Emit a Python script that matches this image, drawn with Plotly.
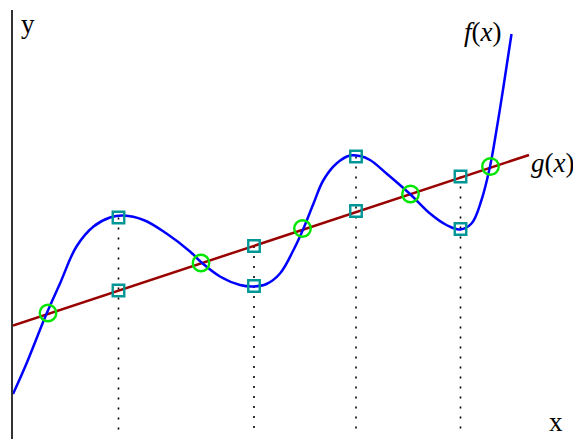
import plotly.graph_objects as go

# f(x) curve points
f_x = [0.00, 0.27, 0.66, 0.94, 1.27, 1.61, 1.94, 2.21, 2.61, 3.07, 3.54, 3.77, 4.14,
       4.54, 4.81, 5.07, 5.34, 5.61, 5.81, 6.01, 6.21, 6.47, 6.74, 6.94, 7.14, 7.47,
       7.94, 8.34, 8.67, 8.94, 9.17, 9.37, 9.54, 9.67, 9.81, 9.97]
f_y = [0.90, 1.51, 2.48, 3.11, 3.85, 4.25, 4.43, 4.47, 4.38, 4.11, 3.75, 3.53, 3.25,
       3.08, 3.05, 3.10, 3.31, 3.78, 4.21, 4.71, 5.18, 5.51, 5.67, 5.66, 5.58, 5.31,
       4.90, 4.51, 4.28, 4.19, 4.31, 4.78, 5.45, 6.18, 7.05, 8.10]

# g(x) straight line end points
g_x = [0.00, 10.32]
g_y = [2.27, 5.68]

# square marks (on f and on g)
sq_x = [2.11, 4.82, 6.86, 8.95]
sq_f = [4.43, 3.06, 5.65, 4.20]
sq_g = [2.97, 3.86, 4.56, 5.25]
drop_bottom = 0.14

# intersection circles
int_x = [0.70, 3.76, 5.79, 7.95, 9.55]
int_y = [2.52, 3.52, 4.21, 4.90, 5.45]

fig = go.Figure()

# dotted drop lines
for xs, yf, yg in zip(sq_x, sq_f, sq_g):
    fig.add_trace(go.Scatter(
        x=[xs, xs], y=[max(yf, yg), drop_bottom], mode="lines",
        line=dict(color="black", width=1.6, dash="2px,8px"),
        hoverinfo="skip", showlegend=False))

fig.add_trace(go.Scatter(x=g_x, y=g_y, mode="lines",
                         line=dict(color="#990000", width=2.5), showlegend=False))
fig.add_trace(go.Scatter(x=f_x, y=f_y, mode="lines",
                         line=dict(color="#0000ff", width=2.5, shape="spline", smoothing=1.1),
                         showlegend=False))

fig.add_trace(go.Scatter(x=sq_x + sq_x, y=sq_f + sq_g, mode="markers",
                         marker=dict(symbol="square-open", size=11.5, color="#009696",
                                     line=dict(width=2.4, color="#009696")),
                         showlegend=False))
fig.add_trace(go.Scatter(x=int_x, y=int_y, mode="markers",
                         marker=dict(symbol="circle-open", size=16.5, color="#00e600",
                                     line=dict(width=2.4, color="#00e600")),
                         showlegend=False))

serif = "Liberation Serif"
ann = [
    dict(x=0.3, y=8.3, text="y", xanchor="center", yanchor="middle"),
    dict(x=10.85, y=0.0, text="x", xanchor="center", yanchor="bottom", yshift=0),
    dict(x=9.40, y=8.15, text="<i>f</i>(<i>x</i>)", xanchor="center", yanchor="middle"),
    dict(x=10.32, y=5.52, text="<i>g</i>(<i>x</i>)", xanchor="left", yanchor="middle"),
]
for a in ann:
    fig.add_annotation(showarrow=False, font=dict(family=serif, size=27, color="black"), **a)

fig.update_layout(
    width=573, height=439,
    margin=dict(l=13, r=0, t=10, b=0),
    paper_bgcolor="white", plot_bgcolor="white",
    xaxis=dict(range=[0, 11.2], showgrid=False, zeroline=False, showline=False,
               showticklabels=False, ticks=""),
    yaxis=dict(range=[0, 8.58], showgrid=False, zeroline=False, showline=True,
               linecolor="#333333", linewidth=1.5, showticklabels=False, ticks=""),
)

fig.write_html("out.html", config={"displayModeBar": False})
